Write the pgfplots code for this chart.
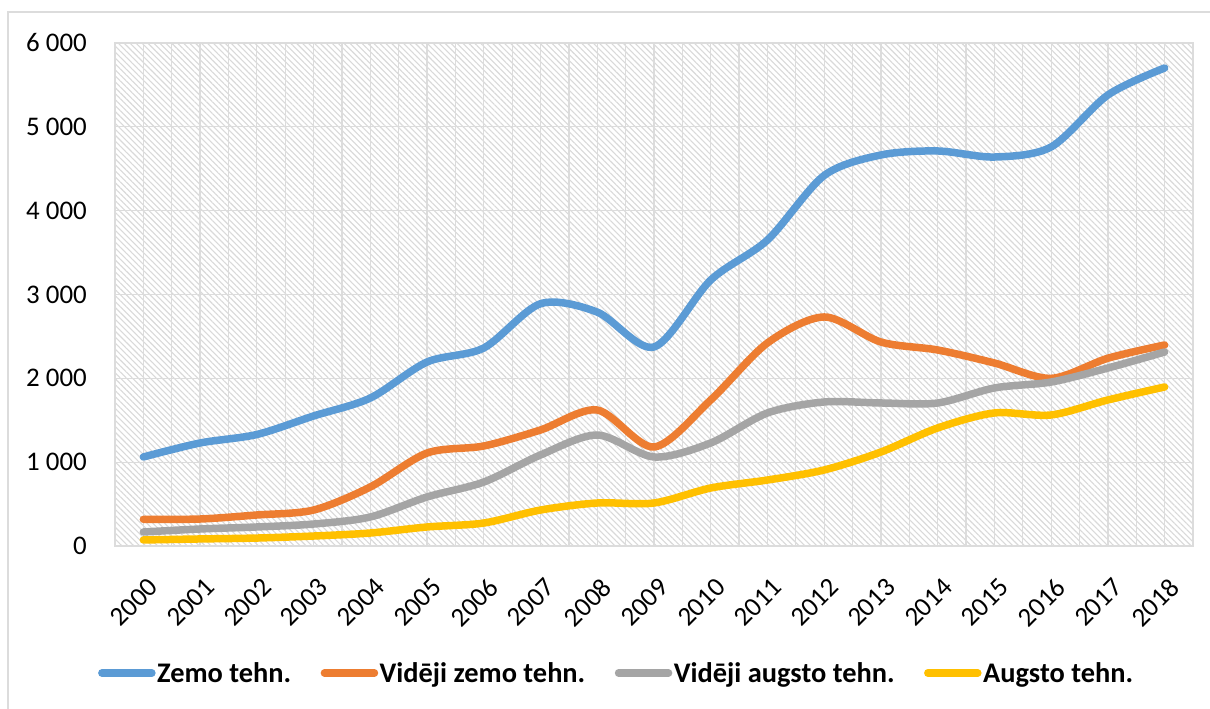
\documentclass[border=0pt]{standalone}
\usepackage{pgfplots}
\pgfplotsset{compat=1.18}
\usepackage{fontspec}
\setmainfont{Carlito}
\usetikzlibrary{patterns.meta}
\definecolor{cBlue}{HTML}{5B9BD5}
\definecolor{cOrange}{HTML}{ED7D31}
\definecolor{cGrey}{HTML}{A5A5A5}
\definecolor{cYellow}{HTML}{FFC000}
\definecolor{cGrid}{HTML}{DCDCDC}
\begin{document}
\begin{tikzpicture}
\useasboundingbox (-115bp,-163bp) rectangle (1095bp,546bp);
\draw[cGrid, line width=1.5bp] (-107bp,-163bp) -- (-107bp,534bp) -- (1095bp,534bp);
\begin{axis}[
  at={(0,0)}, anchor=south west,
  scale only axis, width=1078bp, height=503bp,
  xmin=-0.5, xmax=18.5, ymin=0, ymax=6000,
  xtick={0,...,18},
  xticklabels={2000,2001,2002,2003,2004,2005,2006,2007,2008,2009,2010,2011,2012,2013,2014,2015,2016,2017,2018},
  minor xtick={-0.5,0.5,...,18.5},
  ytick={0,1000,2000,3000,4000,5000,6000},
  yticklabels={0,1 000,2 000,3 000,4 000,5 000,6 000},
  xmajorgrids, xminorgrids, ymajorgrids,
  major tick length=0, minor tick length=0,
  axis line style={draw=cGrid, line width=1.5bp},
  major grid style={draw=cGrid, line width=1.3bp},
  minor grid style={draw=cGrid, line width=1.3bp},
  axis background/.style={fill=white, postaction={pattern={Lines[angle=-45,distance=4.2bp,line width=1.1bp]}, pattern color=black!15}},
  tick label style={font=\fontsize{27}{32}\selectfont, inner sep=0pt},
  yticklabel style={anchor=east, xshift=-28bp},
  xticklabel style={xshift=10bp, yshift=-37bp, rotate=45, anchor=east},
  legend columns=4,
  legend style={at={(-0.0186,-0.2525)}, anchor=west, draw=none, fill=none,
    font=\bfseries\fontsize{28.5}{34}\selectfont,
    /tikz/every even column/.append style={column sep=28bp},
    nodes={inner sep=1.5bp}},
  legend image code/.code={\draw[#1, line cap=round, line width=7.5bp] (0bp,0bp) -- (50bp,0bp);},
  every axis plot/.append style={line width=7.5bp, line cap=round, line join=round, smooth, no markers},
]
\addplot[cBlue] coordinates {(0,1062) (1,1229) (2,1330) (3,1551) (4,1765) (5,2195) (6,2362) (7,2890) (8,2790) (9,2374) (10,3173) (11,3650) (12,4420) (13,4664) (14,4712) (15,4640) (16,4760) (17,5380) (18,5702)};
\addlegendentry{Zemo tehn.}
\addplot[cOrange] coordinates {(0,318) (1,322) (2,370) (3,429) (4,704) (5,1109) (6,1193) (7,1384) (8,1622) (9,1181) (10,1742) (11,2422) (12,2732) (13,2433) (14,2338) (15,2183) (16,2000) (17,2240) (18,2398)};
\addlegendentry{Vidēji zemo tehn.}
\addplot[cGrey] coordinates {(0,167) (1,203) (2,227) (3,262) (4,346) (5,585) (6,763) (7,1086) (8,1324) (9,1062) (10,1229) (11,1587) (12,1718) (13,1706) (14,1706) (15,1885) (16,1956) (17,2123) (18,2314)};
\addlegendentry{Vidēji augsto tehn.}
\addplot[cYellow] coordinates {(0,72) (1,84) (2,95) (3,119) (4,155) (5,227) (6,274) (7,429) (8,513) (9,513) (10,692) (11,787) (12,907) (13,1121) (14,1408) (15,1587) (16,1563) (17,1742) (18,1897)};
\addlegendentry{Augsto tehn.}
\end{axis}
\end{tikzpicture}
\end{document}
